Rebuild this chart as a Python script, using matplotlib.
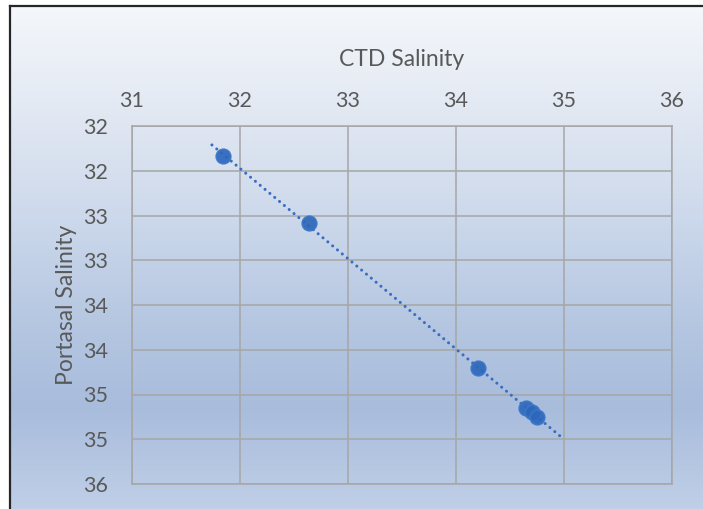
import numpy as np
import matplotlib.pyplot as plt
from matplotlib.colors import LinearSegmentedColormap
from matplotlib.lines import Line2D

# data
ctd_salinity = [31.84, 32.64, 34.20, 34.65, 34.70, 34.75]
portasal_salinity = [31.84, 32.58, 34.20, 34.65, 34.70, 34.75]

x_ticks = [31, 32, 33, 34, 35, 36]
y_ticks = [31.5, 32.0, 32.5, 33.0, 33.5, 34.0, 34.5, 35.0, 35.5]
y_tick_labels = ['32', '32', '33', '33', '34', '34', '35', '35', '36']

# trendline forecast (backward / forward)
trend_back = 0.1
trend_fwd = 0.23

W, H = 703, 509
fig = plt.figure(figsize=(W / 100, H / 100), dpi=100)
fig.patch.set_facecolor('white')

# gradient background inside the chart border
bg = fig.add_axes([11 / W, 0, 1 - 11 / W, 1 - 7 / H])
bg.set_axis_off()
grad_cmap = LinearSegmentedColormap.from_list('bg', [
    (0.0, '#f4f7fb'), (0.2, '#e3e9f3'), (0.45, '#c9d6ea'),
    (0.65, '#b3c5e0'), (0.8, '#a8bcdc'), (1.0, '#c0cfe7')])
grad = np.linspace(0, 1, 256).reshape(-1, 1)
bg.imshow(grad, aspect='auto', cmap=grad_cmap, extent=[0, 1, 1, 0])
bg.set_xlim(0, 1)
bg.set_ylim(1, 0)

# chart border (left and top visible)
fig.add_artist(Line2D([10 / W, 10 / W], [0, 1 - 6 / H], color='#262626', lw=1.6,
                      transform=fig.transFigure))
fig.add_artist(Line2D([10 / W, 1], [1 - 6 / H, 1 - 6 / H], color='#262626', lw=1.6,
                      transform=fig.transFigure))

ax = fig.add_axes([132 / W, 1 - 484 / H, 540 / W, 358 / H])
ax.patch.set_alpha(0)

fnt = 'Lato'
txt_col = '#595959'

# trendline
slope, inter = np.polyfit(ctd_salinity, portasal_salinity, 1)
tx = np.array([min(ctd_salinity) - trend_back, max(ctd_salinity) + trend_fwd])
ax.plot(tx, slope * tx + inter, color='#3a6cc0', lw=2.2,
        linestyle=(0, (0.01, 2.05)), dash_capstyle='round', zorder=3)

ax.plot(ctd_salinity, portasal_salinity, 'o', ms=10.5, mfc='#2c67bb',
        mec='#3b76c6', mew=1.2, alpha=0.92, zorder=4)

ax.set_xlim(31, 36)
ax.set_ylim(35.5, 31.5)
ax.set_xticks(x_ticks)
ax.set_yticks(y_ticks)
ax.set_yticklabels(y_tick_labels)
ax.xaxis.tick_top()
ax.xaxis.set_label_position('top')
ax.grid(True, color='#a6a6a6', lw=1.1)
ax.set_axisbelow(True)
for s in ax.spines.values():
    s.set_color('#a6a6a6')
    s.set_linewidth(1.1)
ax.tick_params(length=0, labelsize=15.5, labelcolor=txt_col)
ax.tick_params(axis='x', pad=11)
ax.tick_params(axis='y', pad=17)
for lab in ax.get_xticklabels() + ax.get_yticklabels():
    lab.set_fontfamily(fnt)

ax.set_xlabel('CTD Salinity', fontsize=16.5, color=txt_col, family=fnt, va='center')
ax.set_ylabel('Portasal Salinity', fontsize=16.5, color=txt_col, family=fnt, va='center')
ax.xaxis.set_label_coords(0.5, 1.185)
ax.yaxis.set_label_coords(-0.122, 0.5)

fig.savefig('out.png', dpi=100)
